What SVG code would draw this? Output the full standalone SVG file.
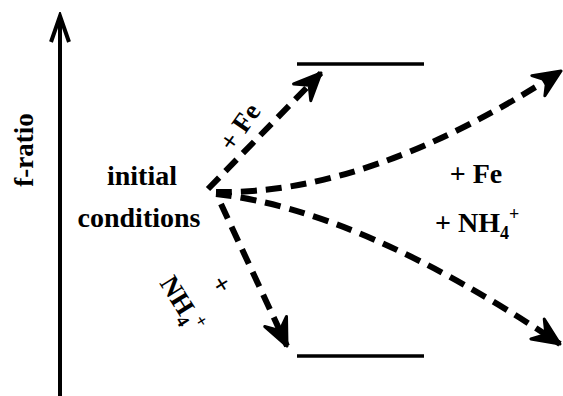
<svg xmlns="http://www.w3.org/2000/svg" width="563" height="396" viewBox="0 0 563 396">
<style>
text{font-family:"Liberation Serif","Times New Roman",serif;font-weight:bold;fill:#000}
.lvl{stroke:#000;stroke-width:3.5;fill:none}
.dash{stroke:#000;stroke-width:6;fill:none;stroke-dasharray:16 9}
</style>
<defs>
<marker id="vh" markerUnits="userSpaceOnUse" viewBox="-32 -16 36 32" refX="0" refY="0" markerWidth="36" markerHeight="32" orient="auto">
<path d="M0,0 L-27,-12 L-17,0 L-27,12 Z" stroke="#000" stroke-width="3" stroke-linejoin="round" fill="#000"/>
</marker>
<marker id="ax" markerUnits="userSpaceOnUse" viewBox="-32 -14 36 28" refX="0" refY="0" markerWidth="36" markerHeight="28" orient="auto">
<path d="M-26,-9 L0,0 L-26,9" stroke="#000" stroke-width="4" fill="none"/>
</marker>
</defs>
<g id="axis">
<line x1="60" y1="396" x2="60" y2="16" stroke="#000" stroke-width="4" marker-end="url(#ax)"/>
<text transform="translate(33,150) rotate(-90)" font-size="27" text-anchor="middle">f-ratio</text>
</g>
<g id="initial">
<text x="142" y="185" font-size="28" text-anchor="middle">initial</text>
<text x="139" y="227" font-size="28" text-anchor="middle">conditions</text>
</g>
<g id="top-level"><line class="lvl" x1="297" y1="64" x2="424" y2="64"/></g>
<g id="bottom-level"><line class="lvl" x1="297" y1="356" x2="424" y2="356"/></g>
<g id="connectors">
<path class="dash" d="M208,189 L321,73" marker-end="url(#vh)"/>
<path class="dash" d="M216,192 Q370,195 561,71" marker-end="url(#vh)"/>
<path class="dash" d="M216,194 Q360,210 560,344" marker-end="url(#vh)"/>
<path class="dash" d="M221,204 L287,346" marker-end="url(#vh)"/>
</g>
<g id="labels">
<text transform="translate(247,132) rotate(-55)" font-size="27" text-anchor="middle">+ Fe</text>
<text transform="translate(214,289) rotate(58)" font-size="27" text-anchor="middle">+</text>
<text transform="translate(159,283) rotate(58)" font-size="27">NH<tspan font-size="18" dy="6">4</tspan><tspan font-size="18" dy="-16">+</tspan></text>
<text x="476" y="183" font-size="28" text-anchor="middle">+ Fe</text>
<text x="435" y="232" font-size="28">+ NH<tspan font-size="18" dy="7">4</tspan><tspan font-size="18" dy="-19">+</tspan></text>
</g>
</svg>
